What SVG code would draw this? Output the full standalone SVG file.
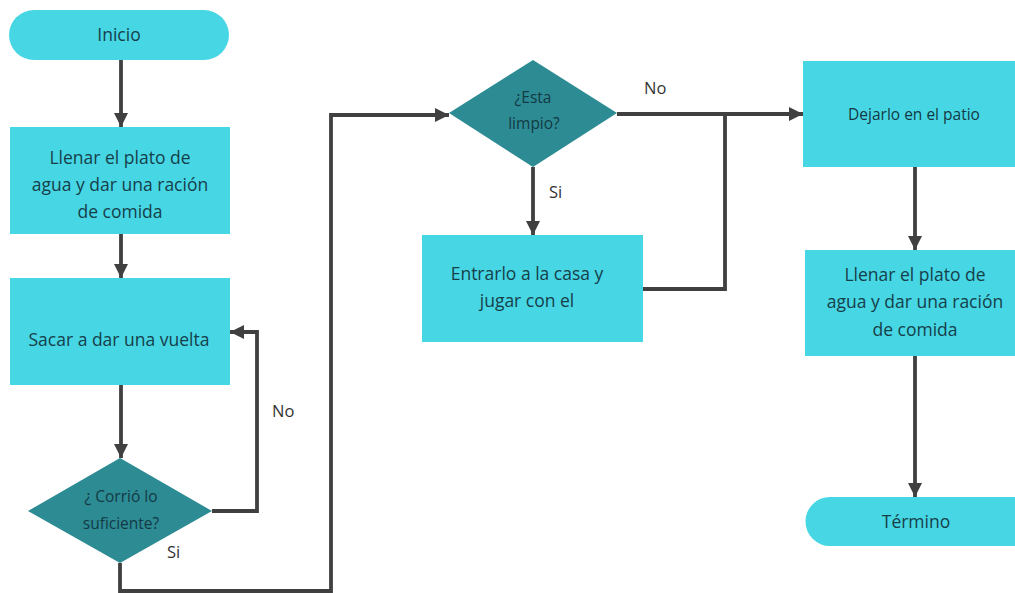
<svg xmlns="http://www.w3.org/2000/svg" width="1015" height="593" viewBox="0 0 1015 593">
  <defs>
    <style>
      .proc { fill: #47d6e4; }
      .dec { fill: #2d8b94; }
      .t { font-family: "Open Sans", "Noto Sans", sans-serif; font-size: 17.5px; fill: #163f4a; text-anchor: middle; }
      .td { font-family: "Open Sans", "Noto Sans", sans-serif; font-size: 15.5px; fill: #133a44; text-anchor: middle; }
      .lbl { font-family: "Open Sans", "Noto Sans", sans-serif; font-size: 16.5px; fill: #333333; }
      .edge { fill: none; stroke: #404040; stroke-width: 3.8; stroke-linejoin: miter; }
    </style>
    <marker id="arr" viewBox="0 0 10 10" refX="10" refY="5" markerWidth="3.8" markerHeight="3.8" orient="auto" markerUnits="strokeWidth">
      <path d="M0,0 L10,5 L0,10 z" fill="#404040"/>
    </marker>
  </defs>
  <rect width="1015" height="593" fill="#ffffff"/>

  <!-- connectors -->
  <g id="connectors">
    <path class="edge" d="M121,60 V127" marker-end="url(#arr)"/>
    <path class="edge" d="M121,234 V278" marker-end="url(#arr)"/>
    <path class="edge" d="M121,385 V458" marker-end="url(#arr)"/>
    <path class="edge" d="M212,511 H257 V332 H230" marker-end="url(#arr)"/>
    <path class="edge" d="M120,563 V591 H331 V115 H449" marker-end="url(#arr)"/>
    <path class="edge" d="M617,114 H803" marker-end="url(#arr)"/>
    <path class="edge" d="M533,167 V235" marker-end="url(#arr)"/>
    <path class="edge" d="M643,289 H725 V114"/>
    <path class="edge" d="M915,167 V250" marker-end="url(#arr)"/>
    <path class="edge" d="M915,356 V497" marker-end="url(#arr)"/>
    <text class="lbl" x="272" y="417">No</text>
    <text class="lbl" x="167" y="558">Si</text>
    <text class="lbl" x="644" y="94">No</text>
    <text class="lbl" x="549" y="198">Si</text>
  </g>

  <g id="inicio">
    <rect class="proc" x="9" y="10" width="220" height="50" rx="25"/>
    <text class="t" x="119" y="41">Inicio</text>
  </g>

  <g id="llenar1">
    <rect class="proc" x="10" y="127" width="220" height="107"/>
    <text class="t" x="120" y="164">Llenar el plato de</text>
    <text class="t" x="120" y="191">agua y dar una ración</text>
    <text class="t" x="120" y="218">de comida</text>
  </g>

  <g id="sacar">
    <rect class="proc" x="10" y="278" width="220" height="107"/>
    <text class="t" x="119" y="346">Sacar a dar una vuelta</text>
  </g>

  <g id="corrio">
    <polygon class="dec" points="120,458 212,511 120,563 28,511"/>
    <text class="td" x="121" y="502">¿ Corrió lo</text>
    <text class="td" x="121" y="529">suficiente?</text>
  </g>

  <g id="limpio">
    <polygon class="dec" points="533,60 617,113 533,167 449,113"/>
    <text class="td" x="533" y="103">¿Esta</text>
    <text class="td" x="534" y="129">limpio?</text>
  </g>

  <g id="entrarlo">
    <rect class="proc" x="422" y="235" width="221" height="107"/>
    <text class="t" x="527" y="280">Entrarlo a la casa y</text>
    <text class="t" x="527" y="307">jugar con el</text>
  </g>

  <g id="dejarlo">
    <rect class="proc" x="803" y="61" width="212" height="106"/>
    <text class="td" x="914" y="120">Dejarlo en el patio</text>
  </g>

  <g id="llenar2">
    <rect class="proc" x="805" y="250" width="210" height="106"/>
    <text class="t" x="915" y="281">Llenar el plato de</text>
    <text class="t" x="915" y="308">agua y dar una ración</text>
    <text class="t" x="915" y="336">de comida</text>
  </g>

  <g id="termino">
    <path class="proc" d="M830,497 H1015 V546 H830 A24.5,24.5 0 0 1 830,497 z"/>
    <text class="t" x="916" y="528">Término</text>
  </g>
</svg>
